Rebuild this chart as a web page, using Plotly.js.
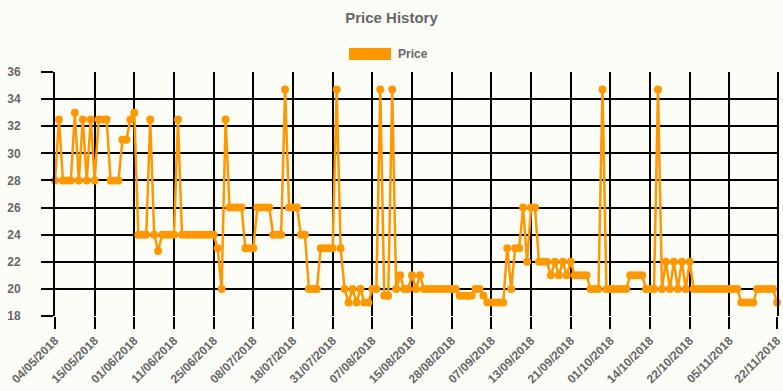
<!DOCTYPE html>
<html>
<head>
<meta charset="utf-8">
<script src="https://cdn.plot.ly/plotly-3.0.1.min.js"></script>
<style>html,body{margin:0;padding:0;background:#fdfdf8;}#chart{width:783px;height:391px;}</style>
</head>
<body>
<div id="chart"></div>
<script>
// Tick labels (dates) and the record index at which each appears
const tickLabels = ["04/05/2018","15/05/2018","01/06/2018","11/06/2018","25/06/2018","08/07/2018","18/07/2018","31/07/2018","07/08/2018","15/08/2018","28/08/2018","07/09/2018","13/09/2018","21/09/2018","01/10/2018","14/10/2018","22/10/2018","05/11/2018","22/11/2018"];
const tickIndex = [0,10,20,30,40,50,60,70,80,90,100,110,120,130,140,150,160,170,182];

// Price per record
const price = [
28,32.5,28,28,28,33,28,32.5,28,32.5,
28,32.5,32.5,32.5,28,28,28,31,31,32.5,
33,24,24,24,32.5,24,22.8,24,24,24,
24,32.5,24,24,24,24,24,24,24,24,
24,23,20,32.5,26,26,26,26,23,23,
23,26,26,26,26,24,24,24,34.7,26,
26,26,24,24,20,20,20,23,23,23,
23,34.7,23,20,19,20,19,20,19,19,
20,20,34.7,19.5,19.5,34.7,20,21,20,20,
21,20,21,20,20,20,20,20,20,20,
20,20,19.5,19.5,19.5,19.5,20,20,19.5,19,
19,19,19,19,23,20,23,23,26,22,
26,26,22,22,22,21,22,21,22,21,
22,21,21,21,21,20,20,20,34.7,20,
20,20,20,20,20,21,21,21,21,20,
20,20,34.7,20,22,20,22,20,22,20,
22,20,20,20,20,20,20,20,20,20,
20,20,20,19,19,19,19,20,20,20,
20,20,19
];
const seriesName = "Price";
const recordIdx = price.map((_, i) => i);

const orange = "#ff9800";
const grey = "#666666";
const fontFam = "Liberation Sans, Arial, sans-serif";

const trace = {
  x: recordIdx,
  y: price,
  type: "scatter",
  mode: "lines+markers",
  name: seriesName,
  line: {color: orange, width: 2.5, shape: "linear"},
  marker: {color: orange, size: 8},
  cliponaxis: false,
  showlegend: false,
  hoverinfo: "skip"
};

const axisCommon = {
  showgrid: true, gridcolor: "#000", gridwidth: 2,
  ticks: "outside", ticklen: 12, tickwidth: 2, tickcolor: "#000",
  zeroline: false, ticklabeloverflow: "allow",
  tickfont: {family: fontFam, size: 12, color: grey, weight: "bold"}
};

const layout = {
  width: 783, height: 391,
  paper_bgcolor: "#fdfdf8", plot_bgcolor: "#fdfdf8",
  margin: {l: 55, r: 6, t: 72, b: 75},
  title: {text: "Price History", font: {family: fontFam, size: 15, color: grey, weight: "bold"},
          x: 0.5, xanchor: "center", y: 1 - 18/391, yref: "container", yanchor: "middle"},
  xaxis: Object.assign({}, axisCommon, {
    range: [-0.0001, 182.0001], tickmode: "array", tickvals: tickIndex, ticktext: tickLabels, tickangle: -45,
    showline: false
  }),
  yaxis: Object.assign({}, axisCommon, {
    range: [18, 36], dtick: 2, tick0: 18, ticklabelstandoff: 18,
    showline: true, linecolor: "#000", linewidth: 2, mirror: true
  }),
  shapes: [{type: "rect", xref: "paper", yref: "paper",
            x0: (349-55)/722, x1: (391-55)/722, y0: (316-60)/244, y1: (316-48)/244,
            fillcolor: orange, line: {width: 0}}],
  annotations: [{text: seriesName, xref: "paper", yref: "paper", x: (396-55)/722, y: (316-54)/244,
                 xanchor: "left", yanchor: "middle", showarrow: false,
                 font: {family: fontFam, size: 12, color: grey, weight: "bold"}}]
};

Plotly.newPlot("chart", [trace], layout, {staticPlot: true, displayModeBar: false});
</script>
</body>
</html>
